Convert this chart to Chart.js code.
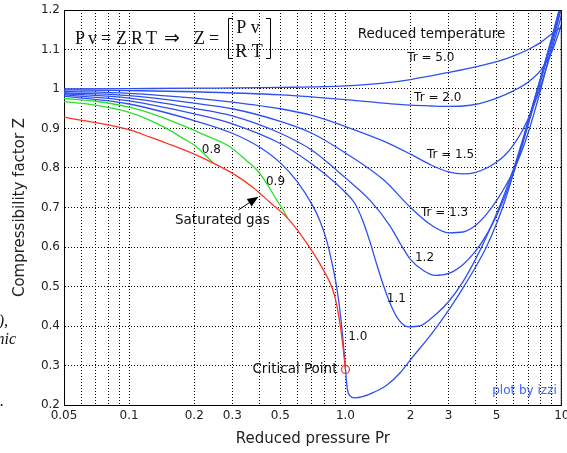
<!DOCTYPE html>
<html>
<head>
<meta charset="utf-8">
<script src="https://cdn.jsdelivr.net/npm/chart.js@4.4.1/dist/chart.umd.min.js"></script>
<style>
  html, body { margin: 0; padding: 0; background: #fff; }
  #wrap { width: 567px; height: 453px; }
</style>
</head>
<body>
<div id="wrap"><canvas id="zChart" width="567" height="453"></canvas></div>
<script>
// reduced pressure Pr / compressibility Z, one pair of arrays per curve
const prTr50 = [0.05, 0.1, 0.2, 0.5, 1, 1.5, 2, 3, 4, 5, 6, 7, 8, 9, 10];
const zTr50  = [1.000, 1.001, 1.002, 1.004, 1.008, 1.015, 1.024, 1.042, 1.056, 1.069, 1.084, 1.100, 1.118, 1.140, 1.158];

const prTr20 = [0.05, 0.1, 0.2, 0.5, 1, 1.5, 2, 2.5, 3, 3.5, 4, 5, 6, 7, 8, 9, 10];
const zTr20  = [0.998, 0.996, 0.993, 0.985, 0.973, 0.964, 0.959, 0.957, 0.956, 0.957, 0.961, 0.977, 0.996, 1.018, 1.048, 1.095, 1.165];

const prTr15 = [0.05, 0.1, 0.2, 0.3, 0.5, 0.7, 1, 1.5, 2, 2.5, 3, 3.5, 4, 4.5, 5, 5.5, 6, 6.5, 7, 7.5, 8, 9, 10];
const zTr15  = [0.994, 0.989, 0.977, 0.967, 0.950, 0.933, 0.905, 0.868, 0.835, 0.807, 0.790, 0.785, 0.789, 0.800, 0.815, 0.834, 0.860, 0.890, 0.925, 0.965, 1.008, 1.100, 1.190];

const prTr13 = [0.05, 0.1, 0.2, 0.3, 0.5, 0.7, 1, 1.5, 2, 2.5, 3, 3.5, 4, 4.5, 5, 5.5, 6, 6.5, 7, 7.5, 8, 9, 10];
const zTr13  = [0.991, 0.983, 0.964, 0.950, 0.918, 0.888, 0.838, 0.770, 0.700, 0.655, 0.636, 0.638, 0.655, 0.684, 0.718, 0.755, 0.795, 0.840, 0.890, 0.945, 1.000, 1.110, 1.210];

const prTr12 = [0.05, 0.1, 0.2, 0.3, 0.5, 0.7, 1, 1.3, 1.6, 1.8, 2, 2.3, 2.6, 3, 3.5, 4, 4.5, 5, 5.5, 6, 6.5, 7, 8, 9, 10];
const zTr12  = [0.988, 0.977, 0.951, 0.932, 0.888, 0.845, 0.775, 0.718, 0.655, 0.607, 0.568, 0.540, 0.528, 0.533, 0.556, 0.590, 0.632, 0.680, 0.733, 0.790, 0.850, 0.910, 1.020, 1.120, 1.215];

const prTr11 = [0.05, 0.1, 0.2, 0.3, 0.5, 0.7, 0.9, 1.0, 1.1, 1.2, 1.3, 1.4, 1.5, 1.6, 1.75, 1.95, 2.2, 2.6, 3, 3.5, 4, 4.5, 5, 5.5, 6, 6.5, 7, 8, 9, 10];
const zTr11  = [0.985, 0.970, 0.937, 0.912, 0.862, 0.810, 0.762, 0.738, 0.712, 0.668, 0.612, 0.553, 0.502, 0.460, 0.418, 0.398, 0.400, 0.428, 0.462, 0.513, 0.570, 0.628, 0.685, 0.742, 0.800, 0.860, 0.920, 1.030, 1.130, 1.225];

const prTr10 = [0.05, 0.1, 0.2, 0.3, 0.4, 0.5, 0.6, 0.7, 0.76, 0.82, 0.87, 0.91, 0.94, 0.97, 0.99, 1.0, 1.02, 1.05, 1.1, 1.2, 1.35, 1.55, 1.8, 2.0, 2.5, 3, 3.5, 4, 4.5, 5, 5.5, 6, 6.5, 7, 8, 9, 10];
const zTr10  = [0.982, 0.962, 0.920, 0.888, 0.853, 0.813, 0.765, 0.708, 0.668, 0.615, 0.555, 0.500, 0.445, 0.375, 0.320, 0.290, 0.240, 0.223, 0.218, 0.221, 0.232, 0.250, 0.283, 0.315, 0.380, 0.440, 0.497, 0.550, 0.602, 0.660, 0.722, 0.790, 0.855, 0.920, 1.030, 1.130, 1.225];

// sub-critical vapour curves (end on the saturation line)
const prTr09 = [0.05, 0.07, 0.1, 0.13, 0.18, 0.22, 0.29, 0.35, 0.39, 0.43, 0.48, 0.52, 0.54];
const zTr09  = [0.976, 0.969, 0.954, 0.936, 0.906, 0.885, 0.855, 0.818, 0.795, 0.763, 0.720, 0.690, 0.673];

const prTr08 = [0.05, 0.07, 0.1, 0.12, 0.15, 0.18, 0.2, 0.22, 0.245];
const zTr08  = [0.968, 0.959, 0.941, 0.925, 0.899, 0.873, 0.858, 0.838, 0.812];

// saturated gas line up to the critical point
const prSat = [0.05, 0.1, 0.125, 0.15, 0.2, 0.25, 0.3, 0.375, 0.45, 0.54, 0.62, 0.71, 0.79, 0.87, 0.91, 0.95, 0.98, 1.0];
const zSat  = [0.929, 0.897, 0.878, 0.862, 0.835, 0.810, 0.787, 0.750, 0.712, 0.673, 0.632, 0.585, 0.542, 0.495, 0.455, 0.395, 0.335, 0.290];

const prCrit = [1.0];
const zCrit  = [0.29];

// axis ticks
const xGridValues  = [0.05, 0.06, 0.07, 0.08, 0.09, 0.1, 0.2, 0.3, 0.4, 0.5, 0.6, 0.7, 0.8, 0.9, 1, 2, 3, 4, 5, 6, 7, 8, 9, 10];
const xLabelValues = [0.05, 0.1, 0.2, 0.3, 0.5, 1, 2, 3, 5, 10];
const xLabelText   = ['0.05', '0.1', '0.2', '0.3', '0.5', '1.0', '2', '3', '5', '10'];
const yTickValues  = [0.2, 0.3, 0.4, 0.5, 0.6, 0.7, 0.8, 0.9, 1.0, 1.1, 1.2];
const yTickText    = ['0.2', '0.3', '0.4', '0.5', '0.6', '0.7', '0.8', '0.9', '1', '1.1', '1.2'];

// curve labels, anchored in data coordinates
const noteText = ['Reduced temperature', 'Tr = 5.0', 'Tr = 2.0', 'Tr = 1.5', 'Tr = 1.3', '1.2', '1.1', '1.0', '0.8', '0.9', 'Saturated gas'];
const notePr   = [2.5, 2.48, 2.67, 3.06, 2.87, 2.32, 1.72, 1.14, 0.24, 0.475, 0.27];
const noteZ    = [1.137, 1.078, 0.977, 0.833, 0.686, 0.572, 0.468, 0.372, 0.846, 0.765, 0.668];
const noteSize = [13.5, 12, 12, 12, 12, 12, 12, 12, 12, 12, 13.5];

const BLUE = '#2f50f0';
const GREEN = '#2be02b';
const RED = '#ff3320';

const pts = (pr, z) => pr.map((p, i) => ({ x: p, y: z[i] }));

function curve(pr, z, color) {
    return {
        data: pts(pr, z),
        borderColor: color,
        borderWidth: 1.3,
        pointRadius: 0,
        fill: false,
        cubicInterpolationMode: 'monotone'
    };
}

const decorations = {
    id: 'decorations',
    afterDatasetsDraw(chart) {
        const { ctx, chartArea: a, scales: { x, y } } = chart;
        ctx.save();

        // frame top + right
        ctx.strokeStyle = '#000';
        ctx.lineWidth = 1;
        ctx.beginPath();
        ctx.moveTo(a.left, a.top + 0.5);
        ctx.lineTo(a.right - 0.5, a.top + 0.5);
        ctx.lineTo(a.right - 0.5, a.bottom);
        ctx.stroke();

        // curve labels
        ctx.fillStyle = '#111';
        ctx.textAlign = 'center';
        ctx.textBaseline = 'middle';
        noteText.forEach((t, i) => {
            ctx.font = noteSize[i] + 'px "DejaVu Sans"';
            ctx.fillText(t, x.getPixelForValue(notePr[i]), y.getPixelForValue(noteZ[i]));
        });

        // arrow to the saturation line
        const tx = x.getPixelForValue(0.32), ty = y.getPixelForValue(0.694);
        const hx = x.getPixelForValue(0.396), hy = y.getPixelForValue(0.727);
        const ang = Math.atan2(hy - ty, hx - tx);
        ctx.strokeStyle = '#000';
        ctx.lineWidth = 1;
        ctx.beginPath();
        ctx.moveTo(tx, ty);
        ctx.lineTo(hx - 8 * Math.cos(ang), hy - 8 * Math.sin(ang));
        ctx.stroke();
        ctx.fillStyle = '#000';
        ctx.beginPath();
        ctx.moveTo(hx, hy);
        ctx.lineTo(hx - 11 * Math.cos(ang) + 4.5 * Math.sin(ang), hy - 11 * Math.sin(ang) - 4.5 * Math.cos(ang));
        ctx.lineTo(hx - 11 * Math.cos(ang) - 4.5 * Math.sin(ang), hy - 11 * Math.sin(ang) + 4.5 * Math.cos(ang));
        ctx.closePath();
        ctx.fill();

        // critical point label
        ctx.fillStyle = '#111';
        ctx.font = '13.5px "DejaVu Sans"';
        ctx.textAlign = 'right';
        ctx.fillText('Critical Point', x.getPixelForValue(prCrit[0]) - 8, y.getPixelForValue(zCrit[0]));

        // credit
        ctx.fillStyle = '#3a64ff';
        ctx.font = '12px "DejaVu Sans"';
        ctx.fillText('plot by izzi', a.right - 5, a.bottom - 14);

        // equation  Pv = ZRT  =>  Z = [Pv / RT]
        const L = a.left, T = a.top;
        ctx.fillStyle = '#111';
        ctx.textAlign = 'left';
        ctx.textBaseline = 'alphabetic';
        ctx.font = '18px "Liberation Serif"';
        const eq = ['P', 'v', '=', 'Z', 'R', 'T'];
        const eqDx = [11, 24, 37, 52, 67, 82];
        eq.forEach((g, i) => ctx.fillText(g, L + eqDx[i], T + 34));
        ctx.font = '19px "DejaVu Sans"';
        ctx.fillText('\u21d2', L + 100, T + 34);
        ctx.font = '18px "Liberation Serif"';
        ctx.fillText('Z', L + 130, T + 34);
        ctx.fillText('=', L + 145, T + 34);
        ctx.textAlign = 'center';
        ctx.fillText('P v', L + 184, T + 23);
        ctx.fillText('R T', L + 185, T + 47);
        ctx.lineWidth = 1;
        ctx.beginPath();
        ctx.moveTo(L + 169, T + 8.5); ctx.lineTo(L + 164.5, T + 8.5); ctx.lineTo(L + 164.5, T + 48.5); ctx.lineTo(L + 169, T + 48.5);
        ctx.moveTo(L + 202, T + 8.5); ctx.lineTo(L + 206.5, T + 8.5); ctx.lineTo(L + 206.5, T + 48.5); ctx.lineTo(L + 202, T + 48.5);
        ctx.stroke();

        // fragments of page text at the left edge
        ctx.font = 'italic 16px "Liberation Serif"';
        ctx.textAlign = 'right';
        ctx.fillText('),', 8, 326);
        ctx.fillText('nic', 16, 344);
        ctx.fillText('.', 4, 406);

        ctx.restore();
    }
};

const ctx = document.getElementById('zChart').getContext('2d');
new Chart(ctx, {
    type: 'line',
    data: {
        datasets: [
            {
                data: pts(prCrit, zCrit),
                showLine: false,
                pointRadius: 4,
                pointBorderWidth: 1.2,
                pointBorderColor: RED,
                pointBackgroundColor: 'rgba(255,255,255,0)'
            },
            curve(prSat, zSat, RED),
            curve(prTr08, zTr08, GREEN),
            curve(prTr09, zTr09, GREEN),
            curve(prTr10, zTr10, BLUE),
            curve(prTr11, zTr11, BLUE),
            curve(prTr12, zTr12, BLUE),
            curve(prTr13, zTr13, BLUE),
            curve(prTr15, zTr15, BLUE),
            curve(prTr20, zTr20, BLUE),
            curve(prTr50, zTr50, BLUE)
        ]
    },
    options: {
        responsive: false,
        animation: false,
        events: [],
        layout: { padding: { top: 10, right: 5, left: 0, bottom: 0 } },
        plugins: { legend: { display: false }, tooltip: { enabled: false } },
        scales: {
            x: {
                type: 'logarithmic',
                min: 0.05,
                max: 10,
                afterBuildTicks: s => { s.ticks = xGridValues.map(v => ({ value: v })); },
                afterFit: s => { s.height = 48; s.paddingLeft = 0; s.paddingRight = 0; },
                ticks: {
                    autoSkip: false,
                    maxRotation: 0,
                    padding: 4,
                    color: '#222',
                    font: { family: 'DejaVu Sans', size: 12 },
                    callback: v => {
                        const i = xLabelValues.findIndex(l => Math.abs(l - v) < 1e-9);
                        return i < 0 ? '' : xLabelText[i];
                    }
                },
                grid: { color: '#000', lineWidth: 1, drawTicks: false },
                border: { display: true, color: '#000', width: 1, dash: [1, 2] },
                title: {
                    display: true,
                    text: 'Reduced pressure Pr',
                    color: '#222',
                    font: { family: 'DejaVu Sans', size: 15 },
                    padding: { top: 0, bottom: 5 }
                }
            },
            y: {
                type: 'linear',
                min: 0.2,
                max: 1.2,
                afterBuildTicks: s => { s.ticks = yTickValues.map(v => ({ value: v })); },
                afterFit: s => { s.width = 64; s.paddingTop = 0; s.paddingBottom = 0; },
                ticks: {
                    padding: 4,
                    color: '#222',
                    font: { family: 'DejaVu Sans', size: 12 },
                    callback: v => {
                        const i = yTickValues.findIndex(l => Math.abs(l - v) < 1e-9);
                        return i < 0 ? '' : yTickText[i];
                    }
                },
                grid: { color: '#000', lineWidth: 1, drawTicks: false },
                border: { display: true, color: '#000', width: 1, dash: [1, 2] },
                title: {
                    display: true,
                    text: 'Compressibility factor Z',
                    color: '#222',
                    font: { family: 'DejaVu Sans', size: 15 },
                    padding: { top: 11, bottom: 0 }
                }
            }
        }
    },
    plugins: [decorations]
});
</script>
</body>
</html>
